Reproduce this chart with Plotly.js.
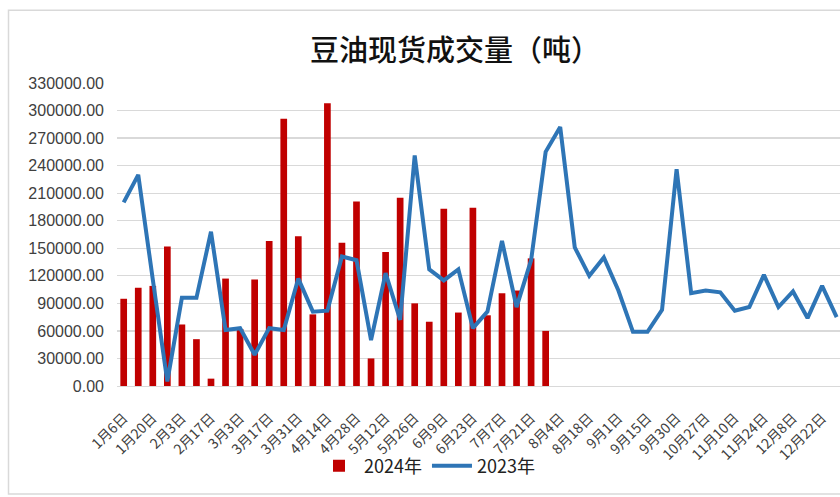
<!DOCTYPE html>
<html>
<head>
<meta charset="utf-8">
<script src="https://cdn.plot.ly/plotly-3.0.1.min.js"></script>
<style>
html,body{margin:0;padding:0;background:#fff;}
#chart{width:840px;height:497px;}
</style>
</head>
<body>
<div id="chart"></div>
<script>
// Weekly categories (every other one labelled on the axis)
const weeks = ["1月6日","1月13日","1月20日","1月27日","2月3日","2月10日","2月17日","2月24日","3月3日","3月10日",
  "3月17日","3月24日","3月31日","4月7日","4月14日","4月21日","4月28日","5月5日","5月12日","5月19日",
  "5月26日","6月2日","6月9日","6月16日","6月23日","6月30日","7月7日","7月14日","7月21日","7月28日",
  "8月4日","8月11日","8月18日","8月25日","9月1日","9月8日","9月15日","9月22日","9月30日","10月20日",
  "10月27日","11月3日","11月10日","11月17日","11月24日","12月1日","12月8日","12月15日","12月22日","12月29日"];

const tickLabels = ["1月6日","1月20日","2月3日","2月17日","3月3日","3月17日","3月31日","4月14日","4月28日",
  "5月12日","5月26日","6月9日","6月23日","7月7日","7月21日","8月4日","8月18日","9月1日","9月15日",
  "9月30日","10月27日","11月10日","11月24日","12月8日","12月22日"];

// 2024 (bars)
const vol2024 = [95000,107000,109000,152000,67000,51000,8000,117000,62000,116000,
  158000,291000,163000,78000,308000,156000,201000,30000,146000,205000,
  90000,70000,193000,80000,194000,77000,101000,104000,139000,60000];

// 2023 (line)
const vol2023 = [200000,230000,116000,5000,96000,96000,168000,61000,63000,34000,
  63000,61000,117000,81000,82000,141000,137000,50000,123000,72000,
  251000,127000,115000,127000,63000,81000,158000,86000,137000,255000,
  282000,151000,120000,140000,104000,59000,59000,83000,236000,101000,
  104000,102000,82000,86000,121000,86000,103000,74000,109000,75000];

const yTicks = [0,30000,60000,90000,120000,150000,180000,210000,240000,270000,300000,330000];

const traces = [
  {
    type: 'bar',
    name: '2024年',
    x: weeks.slice(0, vol2024.length),
    y: vol2024,
    width: 0.46,
    marker: {color: '#C00000'},
    hoverinfo: 'x+y'
  },
  {
    type: 'scatter',
    mode: 'lines',
    name: '2023年',
    x: weeks,
    y: vol2023,
    line: {color: '#2E75B6', width: 4},
    hoverinfo: 'x+y'
  }
];

const layout = {
  width: 840,
  height: 497,
  margin: {l: 117, r: 0, t: 83, b: 111, pad: 0},
  paper_bgcolor: '#ffffff',
  plot_bgcolor: '#ffffff',
  font: {family: '"Noto Sans CJK SC", "Liberation Sans", sans-serif', color: '#404040'},
  title: {
    text: '豆油现货成交量（吨）',
    font: {family: '"Noto Sans CJK SC", sans-serif', size: 29, color: '#111111', weight: 500},
    x: 455/840, xanchor: 'center', xref: 'container',
    y: 1 - 51/497, yanchor: 'middle', yref: 'container'
  },
  xaxis: {
    type: 'category',
    categoryorder: 'array',
    categoryarray: weeks,
    range: [-0.46, 49.23],
    tickmode: 'array',
    tickvals: tickLabels,
    ticktext: tickLabels,
    tickangle: -45,
    tickfont: {family: '"Noto Sans CJK SC", "Liberation Sans", sans-serif', size: 14, color: '#404040'},
    ticks: '',
    ticklabelstandoff: 17,
    showgrid: false,
    showline: true,
    linecolor: '#D9D9D9',
    linewidth: 1.3,
    zeroline: false,
    fixedrange: true
  },
  yaxis: {
    range: [0, 330000],
    tickmode: 'array',
    tickvals: yTicks,
    tickformat: '.2f',
    tickfont: {family: '"Liberation Sans", Arial, sans-serif', size: 16, color: '#404040'},
    ticks: '',
    ticklabelstandoff: 12,
    showgrid: true,
    gridcolor: '#D9D9D9',
    gridwidth: 1.3,
    zeroline: false,
    showline: false,
    fixedrange: true
  },
  bargap: 0.5,
  showlegend: true,
  legend: {
    orientation: 'h',
    xref: 'container', yref: 'container',
    x: 427/840, xanchor: 'center',
    y: 1 - 466/497, yanchor: 'middle',
    font: {family: '"Noto Sans CJK SC", "Liberation Sans", sans-serif', size: 18, color: '#222222'},
    itemwidth: 40,
    traceorder: 'normal',
    bgcolor: 'rgba(0,0,0,0)'
  },
  shapes: [
    {
      type: 'rect', xref: 'paper', yref: 'paper',
      x0: (8.5 - 117) / 723, x1: 1.2,
      y0: (386 - 494) / 303.3, y1: (386 - 10) / 303.3,
      line: {color: '#D9D9D9', width: 1.5},
      fillcolor: 'rgba(0,0,0,0)',
      layer: 'below'
    }
  ]
};

Plotly.newPlot('chart', traces, layout, {displayModeBar: false, staticPlot: true});
</script>
</body>
</html>
